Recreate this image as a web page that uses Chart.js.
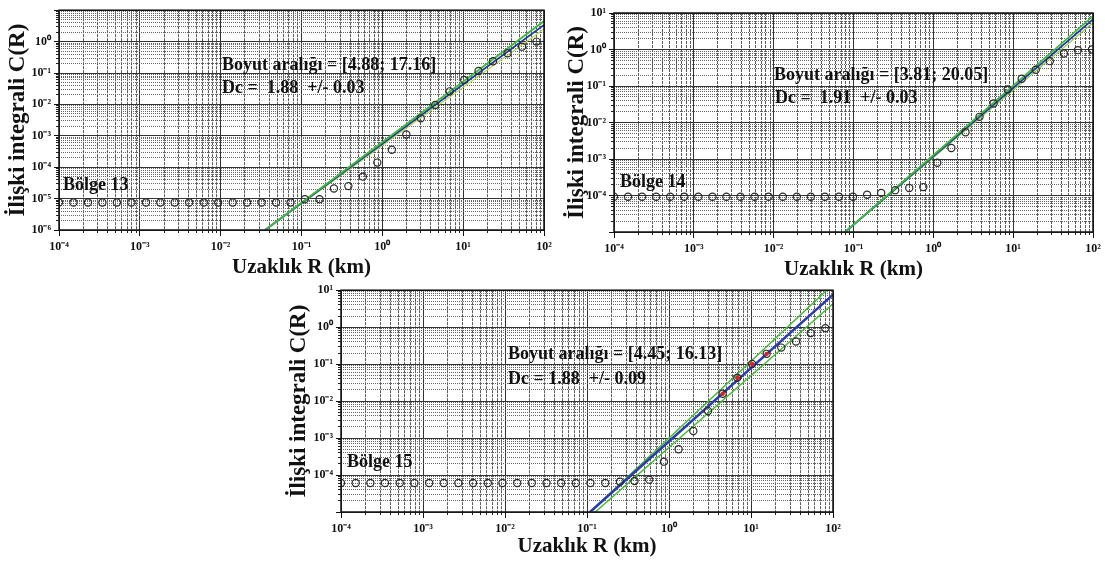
<!DOCTYPE html>
<html>
<head>
<meta charset="utf-8">
<script src="https://cdn.jsdelivr.net/npm/chart.js@4.4.1/dist/chart.umd.min.js"></script>
<style>
  html, body { margin: 0; padding: 0; background: #fff; }
  body { width: 1105px; height: 563px; position: relative; overflow: hidden; }
  canvas { position: absolute; }
</style>
</head>
<body>
<canvas id="c13" width="560" height="290" style="left:0;top:0"></canvas>
<canvas id="c14" width="550" height="290" style="left:555px;top:0"></canvas>
<canvas id="c15" width="580" height="283" style="left:270px;top:280px"></canvas>
<script>
// Uzaklık R (km) — bölge 13 ve 15 aynı aralıkları kullanıyor
const R_13_15 = [1.0e-4, 1.51e-4, 2.28e-4, 3.44e-4, 5.2e-4, 7.85e-4, 1.19e-3, 1.79e-3, 2.7e-3,
    4.08e-3, 6.17e-3, 9.31e-3, 1.41e-2, 2.12e-2, 3.21e-2, 4.84e-2, 7.31e-2, 0.110, 0.167,
    0.252, 0.380, 0.574, 0.867, 1.31, 1.98, 2.99, 4.51, 6.81, 10.3, 15.5, 23.4, 35.4, 53.5, 80.7];
const R_14 = [1.0e-4, 1.5e-4, 2.25e-4, 3.38e-4, 5.06e-4, 7.59e-4, 1.14e-3, 1.71e-3, 2.56e-3,
    3.84e-3, 5.77e-3, 8.65e-3, 1.30e-2, 1.95e-2, 2.92e-2, 4.38e-2, 6.57e-2, 9.85e-2, 0.148,
    0.222, 0.333, 0.499, 0.749, 1.12, 1.68, 2.53, 3.79, 5.69, 8.53, 12.8, 19.2, 28.8, 43.2, 64.7, 97.1];

// İlişki integrali C(R)
const C_13 = [7.5e-6, 7.5e-6, 7.5e-6, 7.5e-6, 7.5e-6, 7.5e-6, 7.5e-6, 7.5e-6, 7.5e-6, 7.5e-6,
    7.5e-6, 7.5e-6, 7.5e-6, 7.5e-6, 7.5e-6, 7.5e-6, 7.5e-6, 9.5e-6, 9.6e-6, 2.1e-5, 2.5e-5,
    5.0e-5, 1.4e-4, 3.6e-4, 1.1e-3, 3.6e-3, 9.6e-3, 2.6e-2, 6.0e-2, 0.116, 0.237, 0.425, 0.69, 1.0];
const C_14 = [9.2e-5, 9.2e-5, 9.2e-5, 9.2e-5, 9.2e-5, 9.2e-5, 9.2e-5, 9.2e-5, 9.2e-5, 9.2e-5,
    9.2e-5, 9.2e-5, 9.2e-5, 9.2e-5, 9.2e-5, 9.2e-5, 9.2e-5, 9.2e-5, 1.05e-4, 1.18e-4, 1.4e-4,
    1.6e-4, 1.7e-4, 7.9e-4, 2.0e-3, 5.4e-3, 1.43e-2, 3.3e-2, 8.0e-2, 0.158, 0.28, 0.48, 0.78, 0.96, 1.0];
const C_15 = [6.1e-5, 6.1e-5, 6.1e-5, 6.1e-5, 6.1e-5, 6.1e-5, 6.1e-5, 6.1e-5, 6.1e-5, 6.1e-5,
    6.1e-5, 6.1e-5, 6.1e-5, 6.1e-5, 6.1e-5, 6.1e-5, 6.1e-5, 6.1e-5, 6.1e-5, 6.6e-5, 6.9e-5,
    7.5e-5, 2.3e-4, 5.0e-4, 1.55e-3, 5.4e-3, 1.58e-2, 4.3e-2, 0.101, 0.19, 0.28, 0.41, 0.69, 0.94];

// bölge 15: regresyona giren noktalar (kırmızı)
const R_FIT_15 = [4.51, 6.81, 10.3, 15.5];
const C_FIT_15 = [1.58e-2, 4.3e-2, 0.101, 0.19];

// doğrular: [başlangıç, bitiş]
const LINE_13_R = [0.0354, 100];
const LINE_13_UP = [1e-6, 4.5];
const LINE_13_FIT = [1e-6, 3.4];
const LINE_13_LOW = [1e-6, 2.5];

const LINE_14_R = [0.0785, 100];
const LINE_14_UP = [1e-5, 8.2];
const LINE_14_FIT = [1e-5, 6.7];
const LINE_14_LOW = [1e-5, 5.4];

const LINE_15_R_UP = [0.109, 84];
const LINE_15_UP = [1e-5, 10];
const LINE_15_R_FIT = [0.109, 100];
const LINE_15_FIT = [1e-5, 7.6];
const LINE_15_R_LOW = [0.126, 100];
const LINE_15_LOW = [1e-5, 4.3];

// eksenler
const X_DECADES = [1e-4, 1e-3, 1e-2, 1e-1, 1, 10, 100];
const X_TICK_LABELS = ['10⁻⁴', '10⁻³', '10⁻²', '10⁻¹', '10⁰', '10¹', '10²'];
const Y_DECADES_13 = [1e-6, 1e-5, 1e-4, 1e-3, 1e-2, 1e-1, 1, 10];
const Y_TICK_LABELS_13 = ['10⁻⁶', '10⁻⁵', '10⁻⁴', '10⁻³', '10⁻²', '10⁻¹', '10⁰', ''];
const Y_DECADES_14 = [1e-5, 1e-4, 1e-3, 1e-2, 1e-1, 1, 10];
const Y_TICK_LABELS_14 = ['', '10⁻⁴', '10⁻³', '10⁻²', '10⁻¹', '10⁰', '10¹'];
const MINOR_STEPS = [2, 3, 4, 5, 6, 7, 8, 9];

const SERIF = '"Liberation Serif", "Times New Roman", serif';

function minorsOf(decades) {
    return decades.slice(0, -1).flatMap(d => MINOR_STEPS.map(m => m * d));
}

function pairs(xs, ys) {
    return xs.map((x, i) => ({ x, y: ys[i] }));
}

// çerçeve + yazılar
const framePlugin = {
    id: 'frame',
    afterDraw(chart, args, opts) {
        const { ctx, chartArea: a } = chart;
        ctx.save();
        ctx.strokeStyle = '#111';
        ctx.lineWidth = 1.5;
        ctx.strokeRect(a.left, a.top, a.right - a.left, a.bottom - a.top);
        ctx.fillStyle = '#111';
        ctx.textAlign = 'left';
        ctx.textBaseline = 'middle';
        for (const t of opts.texts || []) {
            ctx.font = t.font;
            ctx.fillText(t.text, t.x, t.y);
        }
        ctx.restore();
    }
};

function lineSet(rs, cs, color, width) {
    return {
        data: pairs(rs, cs),
        showLine: true,
        pointRadius: 0,
        borderColor: color,
        borderWidth: width,
        fill: false,
    };
}

function makePanel(id, p) {
    const tickFont = { family: SERIF, size: 12, weight: 'bold' };
    new Chart(document.getElementById(id), {
        type: 'scatter',
        data: { datasets: p.datasets },
        options: {
            responsive: false,
            animation: false,
            layout: { padding: p.padding },
            plugins: {
                legend: { display: false },
                tooltip: { enabled: false },
                frame: { texts: p.texts },
            },
            scales: {
                x: {
                    type: 'logarithmic', min: 1e-4, max: 100,
                    afterBuildTicks: s => { s.ticks = X_DECADES.map(v => ({ value: v })); },
                    afterFit: s => { s.height = p.xAxisH; },
                    ticks: {
                        callback: (v, i) => X_TICK_LABELS[i],
                        font: tickFont, color: '#111', padding: 4,
                        autoSkip: false, maxRotation: 0, minRotation: 0,
                    },
                    grid: { color: '#333', lineWidth: 1, tickLength: 6, tickColor: '#111' },
                    border: { display: false },
                    title: {
                        display: true, text: 'Uzaklık R (km)', color: '#111',
                        font: { family: SERIF, size: 21, weight: 'bold' },
                        padding: { top: 0, bottom: 4 },
                    },
                },
                // ara ızgara çizgileri (2..9)
                xm: {
                    type: 'logarithmic', axis: 'x', position: 'bottom', weight: -1,
                    min: 1e-4, max: 100,
                    afterBuildTicks: s => { s.ticks = minorsOf(X_DECADES).map(v => ({ value: v })); },
                    afterFit: s => { s.height = 0; },
                    ticks: { display: false },
                    grid: { color: '#5a5a5a', lineWidth: 1, tickLength: 3, tickColor: '#222' },
                    border: { display: false, dash: [3, 1] },
                },
                y: {
                    type: 'logarithmic', min: p.yDecades[0], max: p.yDecades[p.yDecades.length - 1],
                    afterBuildTicks: s => { s.ticks = p.yDecades.map(v => ({ value: v })); },
                    afterFit: s => { s.width = p.yAxisW; },
                    ticks: {
                        callback: (v, i) => p.yLabels[i],
                        font: tickFont, color: '#111', padding: 3, autoSkip: false,
                    },
                    grid: { color: '#333', lineWidth: 1, tickLength: 5, tickColor: '#111' },
                    border: { display: false },
                    title: {
                        display: true, text: 'İlişki integrali C(R)', color: '#111',
                        font: { family: SERIF, size: 23, weight: 'bold' },
                        padding: { top: 4, bottom: 0 },
                    },
                },
                ym: {
                    type: 'logarithmic', axis: 'y', position: 'left', weight: -1,
                    min: p.yDecades[0], max: p.yDecades[p.yDecades.length - 1],
                    afterBuildTicks: s => { s.ticks = minorsOf(p.yDecades).map(v => ({ value: v })); },
                    afterFit: s => { s.width = 0; },
                    ticks: { display: false },
                    grid: { color: '#666', lineWidth: 1, tickLength: 3, tickColor: '#222' },
                    border: { display: false, dash: [1, 1] },
                },
            },
        },
        plugins: [framePlugin],
    });
}

function circles(rs, cs) {
    return {
        data: pairs(rs, cs),
        showLine: false,
        pointStyle: 'circle',
        pointRadius: 3.6,
        pointBorderWidth: 1.2,
        pointBorderColor: '#2a2a2a',
        pointBackgroundColor: 'rgba(0,0,0,0)',
    };
}

function annotationTexts(range, dc, region, pos) {
    const big = `bold 18px ${SERIF}`;
    return [
        { text: range, x: pos[0], y: pos[1], font: big },
        { text: dc, x: pos[2], y: pos[3], font: big },
        { text: region, x: pos[4], y: pos[5], font: `bold 18px ${SERIF}` },
    ];
}

makePanel('c13', {
    padding: { left: 0, right: 16, top: 10, bottom: 6 },
    xAxisH: 54, yAxisW: 59,
    yDecades: Y_DECADES_13, yLabels: Y_TICK_LABELS_13,
    texts: annotationTexts('Boyut aralığı = [4.88; 17.16]', 'Dc =  1.88  +/- 0.03', 'Bölge 13',
        [222, 65, 222, 88, 63, 185]),
    datasets: [
        circles(R_13_15, C_13),
        lineSet(LINE_13_R, LINE_13_UP, '#3dbb3d', 1.8),
        lineSet(LINE_13_R, LINE_13_FIT, '#2633a8', 1.8),
        lineSet(LINE_13_R, LINE_13_LOW, '#b5d84a', 1.2),
    ],
});

makePanel('c14', {
    padding: { left: 4, right: 12, top: 13, bottom: 4 },
    xAxisH: 54, yAxisW: 55,
    yDecades: Y_DECADES_14, yLabels: Y_TICK_LABELS_14,
    texts: annotationTexts('Boyut aralığı = [3.81; 20.05]', 'Dc =  1.91  +/- 0.03', 'Bölge 14',
        [219, 75, 220, 98, 65, 182]),
    datasets: [
        circles(R_14, C_14),
        lineSet(LINE_14_R, LINE_14_UP, '#3dbb3d', 1.8),
        lineSet(LINE_14_R, LINE_14_FIT, '#2633a8', 1.8),
        lineSet(LINE_14_R, LINE_14_LOW, '#8ccc45', 1.2),
    ],
});

makePanel('c15', {
    padding: { left: 11, right: 17, top: 8, bottom: 0 },
    xAxisH: 51, yAxisW: 60,
    yDecades: Y_DECADES_14, yLabels: Y_TICK_LABELS_14,
    texts: annotationTexts('Boyut aralığı = [4.45; 16.13]', 'Dc = 1.88  +/- 0.09', 'Bölge 15',
        [238, 74, 238, 99, 77, 182]),
    datasets: [
        {
            data: pairs(R_FIT_15, C_FIT_15),
            showLine: false,
            pointRadius: 2.2,
            pointBorderWidth: 0,
            pointBackgroundColor: '#e0201c',
        },
        circles(R_13_15, C_15),
        lineSet(LINE_15_R_FIT, LINE_15_FIT, '#2c3cb0', 2.6),
        lineSet(LINE_15_R_UP, LINE_15_UP, '#46bb36', 1.5),
        lineSet(LINE_15_R_LOW, LINE_15_LOW, '#46bb36', 1.5),
    ],
});
</script>
</body>
</html>
